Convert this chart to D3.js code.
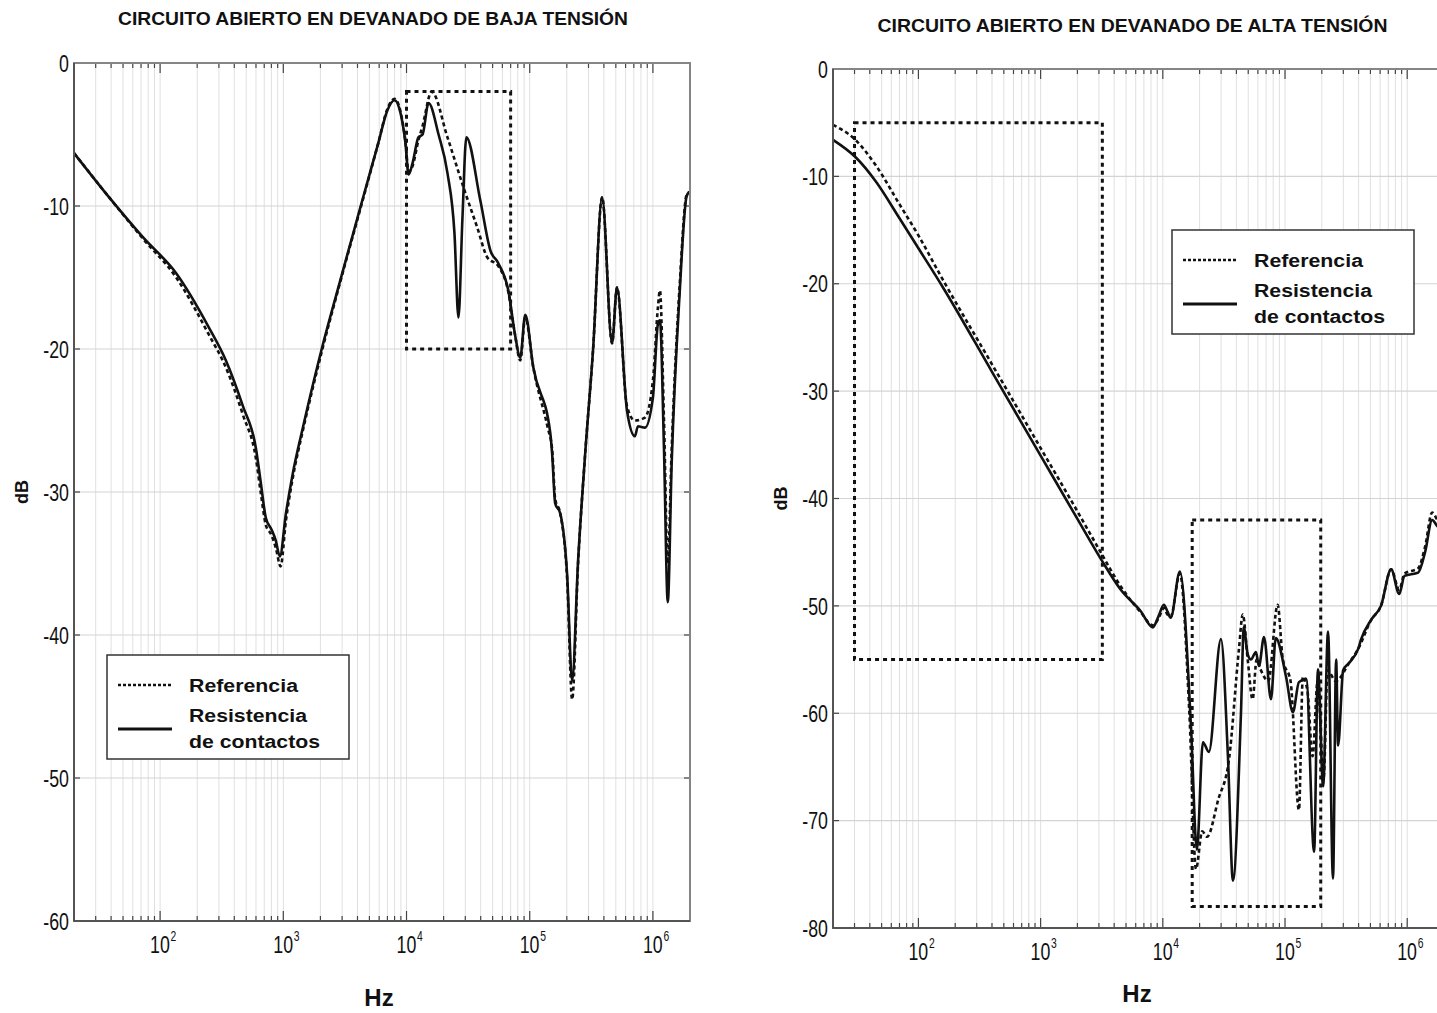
<!DOCTYPE html>
<html>
<head>
<meta charset="utf-8">
<script src="https://cdn.jsdelivr.net/npm/d3@7"></script>
<style>
  body { margin: 0; background: #fff; }
  svg { display: block; }
  text { font-family: "Liberation Sans", Arial, sans-serif; fill: #111; }
  .tick-label { font-family: "Liberation Sans", Arial, sans-serif; font-size: 24px; }
  .tick-exp { font-size: 14px; }
</style>
</head>
<body>
<svg id="chart" width="1437" height="1013"></svg>
<script>
// ---- data ----
const freqTicks = [1e2, 1e3, 1e4, 1e5, 1e6];
const bajaDbTicks = [0, -10, -20, -30, -40, -50, -60];
const altaDbTicks = [0, -10, -20, -30, -40, -50, -60, -70, -80];
const legendLabels = ['Referencia', 'Resistencia', 'de contactos'];

// [Hz, dB]
const bajaReferencia = [
  [20, -6.3], [38.6, -9.4], [72.8, -12.3], [135, -15.0], [249, -19.0], [342, -21.3],
  [470, -24.6], [598, -27.6], [660, -30.2], [721, -32.3], [800, -33.0], [869, -33.9],
  [950, -35.2], [1050, -32], [1194, -29.0], [1450, -25.6], [2050, -20.2], [2900, -15.3],
  [4250, -10.1], [5900, -5.6], [7000, -3.2], [8000, -2.5], [8940, -3.4], [9800, -5.5],
  [1.04e4, -7.6], [1.12e4, -7.2], [1.25e4, -5.4], [1.35e4, -4.4], [1.6e4, -2.0],
  [2.15e4, -5.2], [2.9e4, -8.7], [3.75e4, -11.5], [4.53e4, -13.6], [5.56e4, -14.2],
  [6.7e4, -16.0], [7.6e4, -19], [8.38e4, -20.8], [9.2e4, -17.8], [1.07e5, -21.3],
  [1.4e5, -25.5], [1.52e5, -27.0], [1.61e5, -30.5], [1.77e5, -31.5], [2.01e5, -36],
  [2.21e5, -44.5], [2.47e5, -35], [2.81e5, -27.5], [3.27e5, -20], [3.87e5, -9.4],
  [4.66e5, -19.6], [5.11e5, -15.7], [6.16e5, -24], [7.14e5, -25], [8.61e5, -24.8],
  [1.0e6, -22.2], [1.1e6, -17], [1.14e6, -15.9], [1.23e6, -25], [1.32e6, -35],
  [1.42e6, -27], [1.65e6, -15.5], [1.88e6, -9.2], [2e6, -9.0]
];
const bajaResistencia = [
  [20, -6.3], [38.6, -9.4], [72.8, -12.2], [135, -14.7], [249, -18.5], [342, -20.8],
  [470, -24], [598, -26.9], [660, -29.5], [721, -31.8], [800, -32.6], [869, -33.4],
  [937, -34.5], [1050, -31.5], [1194, -28.7], [1450, -25.4], [2050, -20], [2900, -15.2],
  [4250, -10], [5900, -5.6], [7000, -3.3], [8000, -2.6], [8940, -3.5], [9800, -5.6],
  [1.04e4, -7.8], [1.12e4, -7.0], [1.25e4, -5.2], [1.35e4, -5.0], [1.51e4, -2.8],
  [1.82e4, -5.0], [2.15e4, -7.7], [2.45e4, -11.9], [2.64e4, -17.8], [2.84e4, -11],
  [3.06e4, -5.2], [3.97e4, -9.6], [4.79e4, -13.1], [5.56e4, -14], [6.7e4, -15.9],
  [7.6e4, -19], [8.38e4, -20.6], [9.2e4, -17.6], [1.07e5, -21.3], [1.47e5, -25.9],
  [1.52e5, -27.3], [1.61e5, -30.8], [1.77e5, -31.5], [2.01e5, -35.7], [2.21e5, -43.2],
  [2.47e5, -34.8], [2.81e5, -27.5], [3.27e5, -20], [3.87e5, -9.4], [4.66e5, -19.6],
  [5.11e5, -15.7], [6.16e5, -24.3], [7.14e5, -26.1], [7.56e5, -25.4], [8.61e5, -25.5],
  [1.0e6, -23.4], [1.1e6, -18.2], [1.14e6, -18], [1.23e6, -27], [1.32e6, -37.7],
  [1.42e6, -28], [1.65e6, -16], [1.88e6, -9.3], [2e6, -9.0]
];
const altaReferencia = [
  [20, -5.2], [30.5, -6.6], [45, -9.0], [70, -12.6], [100, -15.5], [158, -19.6],
  [400, -27.5], [1000, -35.3], [2000, -41.2], [3100, -45.0], [4530, -48.2], [6600, -50.6],
  [8280, -51.8], [9200, -51.2], [1.02e4, -50.2], [1.09e4, -50.8], [1.16e4, -51],
  [1.38e4, -47], [1.65e4, -60], [1.87e4, -74.5], [2.1e4, -71], [2.3e4, -71.5],
  [2.85e4, -68], [3.48e4, -64.3], [4.2e4, -54], [4.51e4, -50.8], [4.95e4, -55],
  [5.43e4, -58.7], [5.86e4, -55], [6.3e4, -55.9], [7.3e4, -57], [8.7e4, -49.9],
  [9.6e4, -55], [1.11e5, -57], [1.30e5, -69], [1.40e5, -56.6], [1.53e5, -58],
  [1.68e5, -64], [1.85e5, -57], [2.07e5, -66], [2.23e5, -56], [2.6e5, -57],
  [3.35e5, -55.3], [3.97e5, -54], [5.07e5, -51.3], [6.1e5, -50], [7.39e5, -46.6],
  [8.6e5, -48.5], [9.5e5, -47], [1.23e6, -46.5], [1.4e6, -44.5], [1.6e6, -41.3],
  [1.77e6, -42], [2e6, -42.5]
];
const altaResistencia = [
  [20, -6.6], [30.5, -8.2], [45, -10.5], [70, -13.9], [100, -16.7], [158, -20.3],
  [400, -28.2], [1000, -36.0], [2000, -41.9], [3100, -45.6], [4530, -48.5], [6600, -50.5],
  [8280, -52], [9200, -51], [1.02e4, -49.9], [1.09e4, -50.5], [1.16e4, -51.1],
  [1.38e4, -46.8], [1.70e4, -61.2], [1.9e4, -72.7], [2.13e4, -62.7], [2.38e4, -63.6],
  [2.99e4, -53.1], [3.41e4, -64], [3.75e4, -75.6], [4.36e4, -60], [4.6e4, -52],
  [4.95e4, -54.5], [5.26e4, -55], [5.78e4, -54.3], [6.12e4, -55.6], [6.73e4, -52.9],
  [7.68e4, -58.7], [8.4e4, -53], [1.02e5, -56.6], [1.16e5, -59.9], [1.30e5, -57.1],
  [1.49e5, -56.8], [1.73e5, -72.9], [1.86e5, -55.9], [2.05e5, -66.8], [2.25e5, -52.4],
  [2.47e5, -75.4], [2.62e5, -55], [2.72e5, -63], [2.99e5, -56], [3.35e5, -55.3],
  [3.97e5, -54], [4.2e5, -53.1], [5.07e5, -51.3], [6.1e5, -50], [7.39e5, -46.6],
  [8.6e5, -48.9], [9.5e5, -47.2], [1.23e6, -46.9], [1.4e6, -45], [1.6e6, -42],
  [1.77e6, -42.6], [2e6, -43]
];

// dotted boxes: [f0, f1, dbTop, dbBottom]
const bajaBoxes = [[1e4, 7e4, -2, -20]];
const altaBoxes = [[30, 3.2e3, -5, -55], [1.74e4, 1.96e5, -42, -78]];

const svg = d3.select('#chart');

function drawPanel(cfg) {
  const x = d3.scaleLog().domain([20, 2e6]).range([cfg.left, cfg.right]);
  const y = d3.scaleLinear().domain(cfg.dbDomain).range([cfg.bottom, cfg.top]);
  const g = svg.append('g').attr('class', `panel panel--${cfg.id}`);

  g.append('clipPath').attr('id', `clip-${cfg.id}`)
    .append('rect')
    .attr('x', cfg.left).attr('y', cfg.top)
    .attr('width', cfg.right - cfg.left).attr('height', cfg.bottom - cfg.top);

  // minor / major freq positions
  const gridFreqs = [];
  for (let e = 1; e <= 6; e++) {
    for (let m = 1; m <= 9; m++) {
      const f = m * Math.pow(10, e);
      if (f > 20 && f < 2e6) gridFreqs.push(f);
    }
  }

  // grid
  g.append('g').selectAll('line').data(gridFreqs).join('line')
    .attr('x1', d => x(d)).attr('x2', d => x(d))
    .attr('y1', cfg.top).attr('y2', cfg.bottom)
    .attr('stroke', '#e0e0e0').attr('stroke-width', 1);
  g.append('g').selectAll('line').data(cfg.dbTicks).join('line')
    .attr('x1', cfg.left).attr('x2', cfg.right)
    .attr('y1', d => y(d)).attr('y2', d => y(d))
    .attr('stroke', '#d4d4d4').attr('stroke-width', 1.2);

  // ticks inside the box
  const isMajor = f => freqTicks.includes(f);
  const $ticks = g.append('g').attr('stroke', '#444').attr('stroke-width', 1.2);
  $ticks.selectAll('.tb').data(gridFreqs).join('line').attr('class', 'tb')
    .attr('x1', d => x(d)).attr('x2', d => x(d))
    .attr('y1', cfg.bottom).attr('y2', d => cfg.bottom - (isMajor(d) ? 10 : 5));
  $ticks.selectAll('.tt').data(gridFreqs).join('line').attr('class', 'tt')
    .attr('x1', d => x(d)).attr('x2', d => x(d))
    .attr('y1', cfg.top).attr('y2', d => cfg.top + (isMajor(d) ? 10 : 5));
  $ticks.selectAll('.tl').data(cfg.dbTicks).join('line').attr('class', 'tl')
    .attr('x1', cfg.left).attr('x2', cfg.left + 6)
    .attr('y1', d => y(d)).attr('y2', d => y(d));
  $ticks.selectAll('.tr').data(cfg.dbTicks).join('line').attr('class', 'tr')
    .attr('x1', cfg.right).attr('x2', cfg.right - 6)
    .attr('y1', d => y(d)).attr('y2', d => y(d));

  // curves
  const line = d3.line()
    .x(d => x(d[0]))
    .y(d => y(d[1]))
    .curve(d3.curveMonotoneX);
  const $vis = g.append('g').attr('clip-path', `url(#clip-${cfg.id})`);
  $vis.append('path').datum(cfg.resistencia)
    .attr('d', line).attr('fill', 'none')
    .attr('stroke', '#111').attr('stroke-width', 2.6)
    .attr('stroke-linejoin', 'round');
  $vis.append('path').datum(cfg.referencia)
    .attr('d', line).attr('fill', 'none')
    .attr('stroke', '#111').attr('stroke-width', 2.6)
    .attr('stroke-dasharray', '4,3');

  // dotted boxes
  $vis.selectAll('.box').data(cfg.boxes).join('rect').attr('class', 'box')
    .attr('x', d => x(d[0])).attr('y', d => y(d[2]))
    .attr('width', d => x(d[1]) - x(d[0]))
    .attr('height', d => y(d[3]) - y(d[2]))
    .attr('fill', 'none').attr('stroke', '#111')
    .attr('stroke-width', 3).attr('stroke-dasharray', '4,4');

  // frame
  g.append('rect')
    .attr('x', cfg.left).attr('y', cfg.top)
    .attr('width', cfg.right - cfg.left).attr('height', cfg.bottom - cfg.top)
    .attr('fill', 'none').attr('stroke', '#858585').attr('stroke-width', 2);
  g.append('path')
    .attr('d', `M${cfg.left},${cfg.top}V${cfg.bottom}H${cfg.right}`)
    .attr('fill', 'none').attr('stroke', '#444').attr('stroke-width', 1.5);

  // y tick labels (condensed, like the scanned figure)
  g.append('g').selectAll('text').data(cfg.dbTicks).join('text')
    .attr('class', 'tick-label')
    .attr('transform', d => `translate(${cfg.left - 5},${y(d)}) scale(0.74,1)`)
    .attr('dy', '0.36em')
    .attr('text-anchor', 'end')
    .text(d => d);

  // x tick labels 10^n
  const $xl = g.append('g').selectAll('text').data(freqTicks).join('text')
    .attr('class', 'tick-label')
    .attr('transform', d => `translate(${x(d) - 10},${cfg.bottom + 32}) scale(0.74,1)`);
  $xl.append('tspan').text('10');
  $xl.append('tspan').attr('class', 'tick-exp').attr('dy', -12).attr('dx', 1)
    .text(d => Math.round(Math.log10(d)));

  // titles
  g.append('text')
    .attr('x', (cfg.left + cfg.right) / 2 + cfg.titleDx).attr('y', cfg.titleY)
    .attr('text-anchor', 'middle')
    .attr('font-weight', 'bold').attr('font-size', 18)
    .attr('textLength', 510).attr('lengthAdjust', 'spacingAndGlyphs')
    .text(cfg.title);
  g.append('text')
    .attr('x', cfg.hzX).attr('y', cfg.hzY)
    .attr('text-anchor', 'middle')
    .attr('font-weight', 'bold').attr('font-size', 24)
    .text('Hz');
  g.append('text')
    .attr('transform', `translate(${cfg.left - 46},${(cfg.top + cfg.bottom) / 2}) rotate(-90)`)
    .attr('text-anchor', 'middle')
    .attr('font-weight', 'bold').attr('font-size', 18)
    .text('dB');

  // legend
  const lg = g.append('g').attr('transform', `translate(${cfg.legend[0]},${cfg.legend[1]})`);
  lg.append('rect').attr('width', 242).attr('height', 104)
    .attr('fill', '#fff').attr('stroke', '#333').attr('stroke-width', 1.5);
  lg.append('line').attr('x1', 11).attr('x2', 65).attr('y1', 30).attr('y2', 30)
    .attr('stroke', '#111').attr('stroke-width', 2.6).attr('stroke-dasharray', '3,2');
  lg.append('line').attr('x1', 11).attr('x2', 65).attr('y1', 74).attr('y2', 74)
    .attr('stroke', '#111').attr('stroke-width', 2.8);
  const legendWidths = [109, 118, 131];
  const legendY = [37, 67, 93];
  lg.selectAll('.lt').data(legendLabels).join('text').attr('class', 'lt')
    .attr('x', 82).attr('y', (d, i) => legendY[i])
    .attr('font-weight', 'bold').attr('font-size', 18)
    .attr('textLength', (d, i) => legendWidths[i]).attr('lengthAdjust', 'spacingAndGlyphs')
    .text(d => d);
}

drawPanel({
  id: 'baja', left: 74, right: 690, top: 63, bottom: 921,
  dbDomain: [-60, 0], dbTicks: bajaDbTicks,
  referencia: bajaReferencia, resistencia: bajaResistencia, boxes: bajaBoxes,
  title: 'CIRCUITO ABIERTO EN DEVANADO DE BAJA TENSIÓN', titleY: 25, titleDx: -9,
  hzX: 379, hzY: 1006, legend: [107, 655]
});
drawPanel({
  id: 'alta', left: 833, right: 1444, top: 69, bottom: 928,
  dbDomain: [-80, 0], dbTicks: altaDbTicks,
  referencia: altaReferencia, resistencia: altaResistencia, boxes: altaBoxes,
  title: 'CIRCUITO ABIERTO EN DEVANADO DE ALTA TENSIÓN', titleY: 32, titleDx: -6,
  hzX: 1137, hzY: 1002, legend: [1172, 230]
});
</script>
</body>
</html>
